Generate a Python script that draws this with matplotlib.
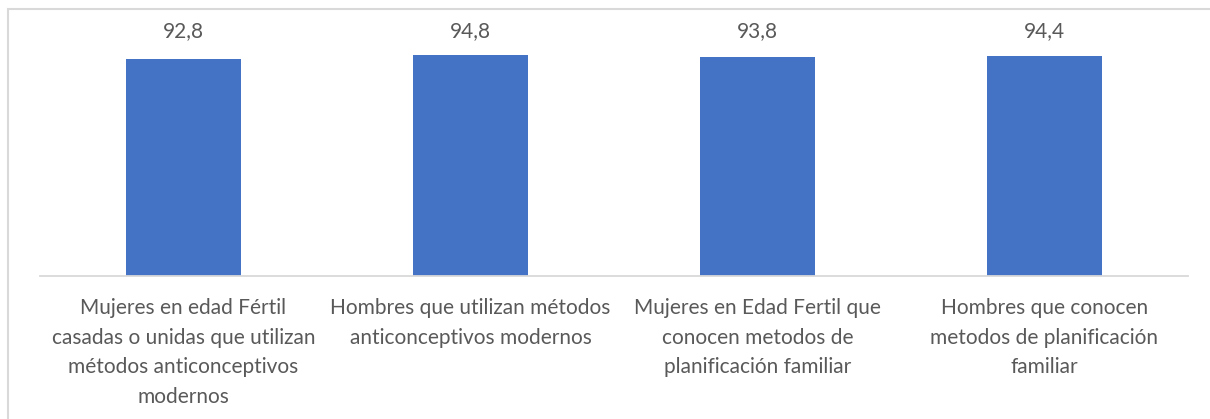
import matplotlib.pyplot as plt
from matplotlib.patches import Rectangle
from matplotlib.transforms import blended_transform_factory

# datos
categorias = [
    "Mujeres en edad Fértil\ncasadas o unidas que utilizan\nmétodos anticonceptivos\nmodernos",
    "Hombres que utilizan métodos\nanticonceptivos modernos",
    "Mujeres en Edad Fertil que\nconocen metodos de\nplanificación familiar",
    "Hombres que conocen\nmetodos de planificación\nfamiliar",
]
valores = [92.8, 94.8, 93.8, 94.4]
etiquetas = ["92,8", "94,8", "93,8", "94,4"]

plt.rcParams['font.family'] = ['Lato', 'DejaVu Sans']
gris = '#595959'

fig = plt.figure(figsize=(12.1, 4.19), dpi=100)
ax = fig.add_axes([40 / 1210, 143 / 419, 1148 / 1210, 233.4 / 419])

x = list(range(len(valores)))
ax.bar(x, valores, width=0.4, color='#4472C4')
ax.set_xlim(-0.5, len(valores) - 0.5)
ax.set_ylim(0, 100)

# etiquetas de valor
tr = blended_transform_factory(ax.transData, ax.transAxes)
for xi, et in zip(x, etiquetas):
    ax.text(xi, 1.05, et, transform=tr, ha='center', va='center',
            fontsize=15, color=gris)

ax.set_xticks(x)
ax.set_xticklabels(categorias, fontsize=15, color=gris, linespacing=1.6)
ax.tick_params(axis='x', length=0, pad=16)
ax.set_yticks([])
for s in ['top', 'right', 'left']:
    ax.spines[s].set_visible(False)
ax.spines['bottom'].set_color('#d9d9d9')
ax.spines['bottom'].set_linewidth(1.3)

# marco del grafico
fig.patches.append(Rectangle((8 / 1210, -0.1), 1.2, (419 - 9.5) / 419 + 0.1,
                             transform=fig.transFigure, fill=False,
                             edgecolor='#d9d9d9', linewidth=1.5))

fig.savefig('out.png', dpi=100)
